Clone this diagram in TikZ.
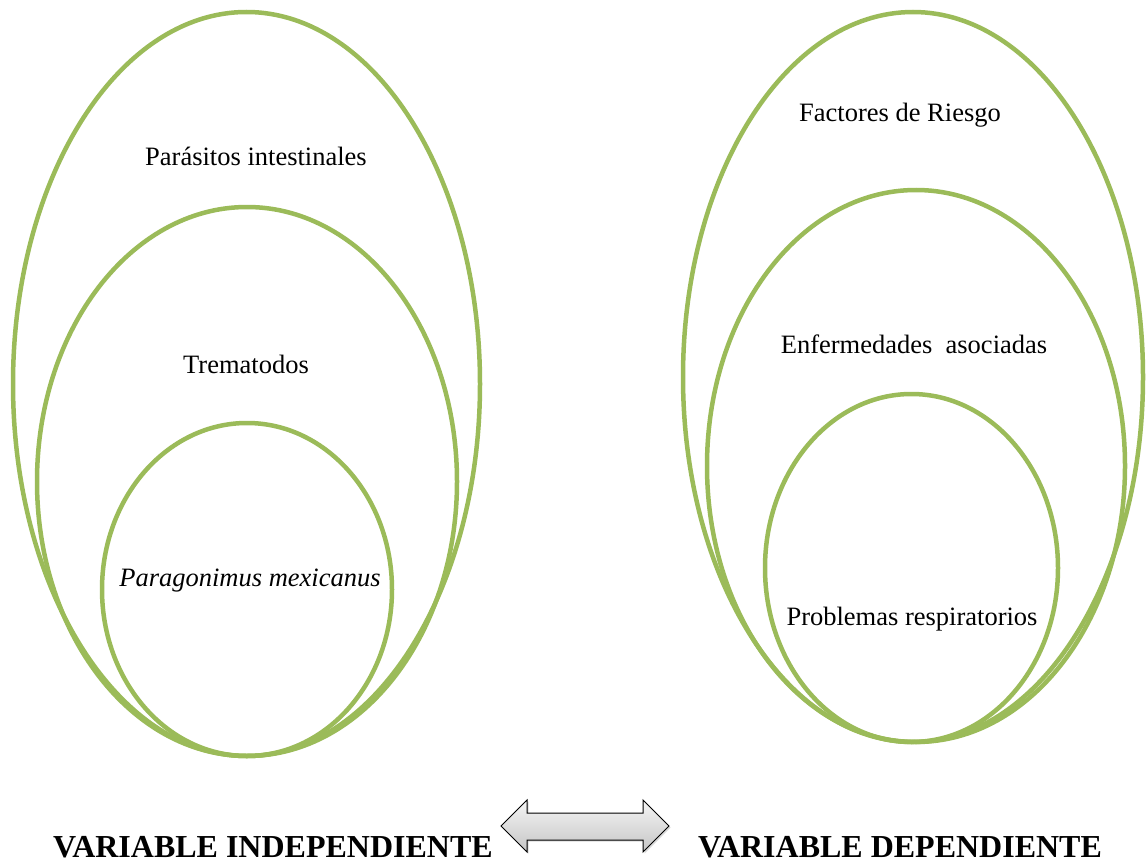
\documentclass[tikz,border=0pt]{standalone}
\usepackage{fontspec}
\setmainfont{Liberation Serif}
\usetikzlibrary{shadows}
\definecolor{ringgreen}{HTML}{9BBB59}
\tikzset{
  ring/.style={draw=ringgreen, line width=4.5pt},
  lbl/.style={anchor=base, inner sep=0pt, font=\fontsize{26.5}{30}\selectfont},
  title/.style={anchor=base, inner sep=0pt, font=\fontsize{32}{36}\selectfont\bfseries},
  dblarrow/.style={draw=black, line width=1pt, line join=miter, top color=gray!8, bottom color=gray!45,
    drop shadow={shadow xshift=1.5pt, shadow yshift=-1.5pt, opacity=0.3}}
}
\begin{document}
\begin{tikzpicture}[x=1pt,y=-1pt]
\useasboundingbox (0,0) rectangle (1146,864);
% left rings
\draw[ring] (246.5,384) ellipse [x radius=233.5, y radius=372];
\draw[ring] (247,481.5) ellipse [x radius=210, y radius=274.5];
\draw[ring] (247,589.5) ellipse [x radius=145, y radius=166.5];
% right rings
\draw[ring] (913,377) ellipse [x radius=230, y radius=365];
\draw[ring] (916,466) ellipse [x radius=209, y radius=276];
\draw[ring] (911.5,568) ellipse [x radius=146.5, y radius=174];
% labels
\node[lbl] (par) at (256,165) {Parásitos intestinales};
\node[lbl] (tre) at (246,373) {Trematodos};
\node[lbl] (pmx) at (250,586) {\itshape Paragonimus mexicanus};
\node[lbl] (fac) at (900,122) {Factores de Riesgo};
\node[lbl] (enf) at (914,353) {Enfermedades\ \ asociadas};
\node[lbl] (pro) at (912,625) {Problemas respiratorios};
\node[title] (vi) at (273,857) {VARIABLE INDEPENDIENTE};
\node[title] (vd) at (900,857) {VARIABLE DEPENDIENTE};
% double arrow
\path[dblarrow] (501,826) -- (527,800) -- (527,813) -- (643,813) -- (643,800) -- (669,826)
  -- (643,852) -- (643,840) -- (527,840) -- (527,852) -- cycle;
\end{tikzpicture}
\end{document}
